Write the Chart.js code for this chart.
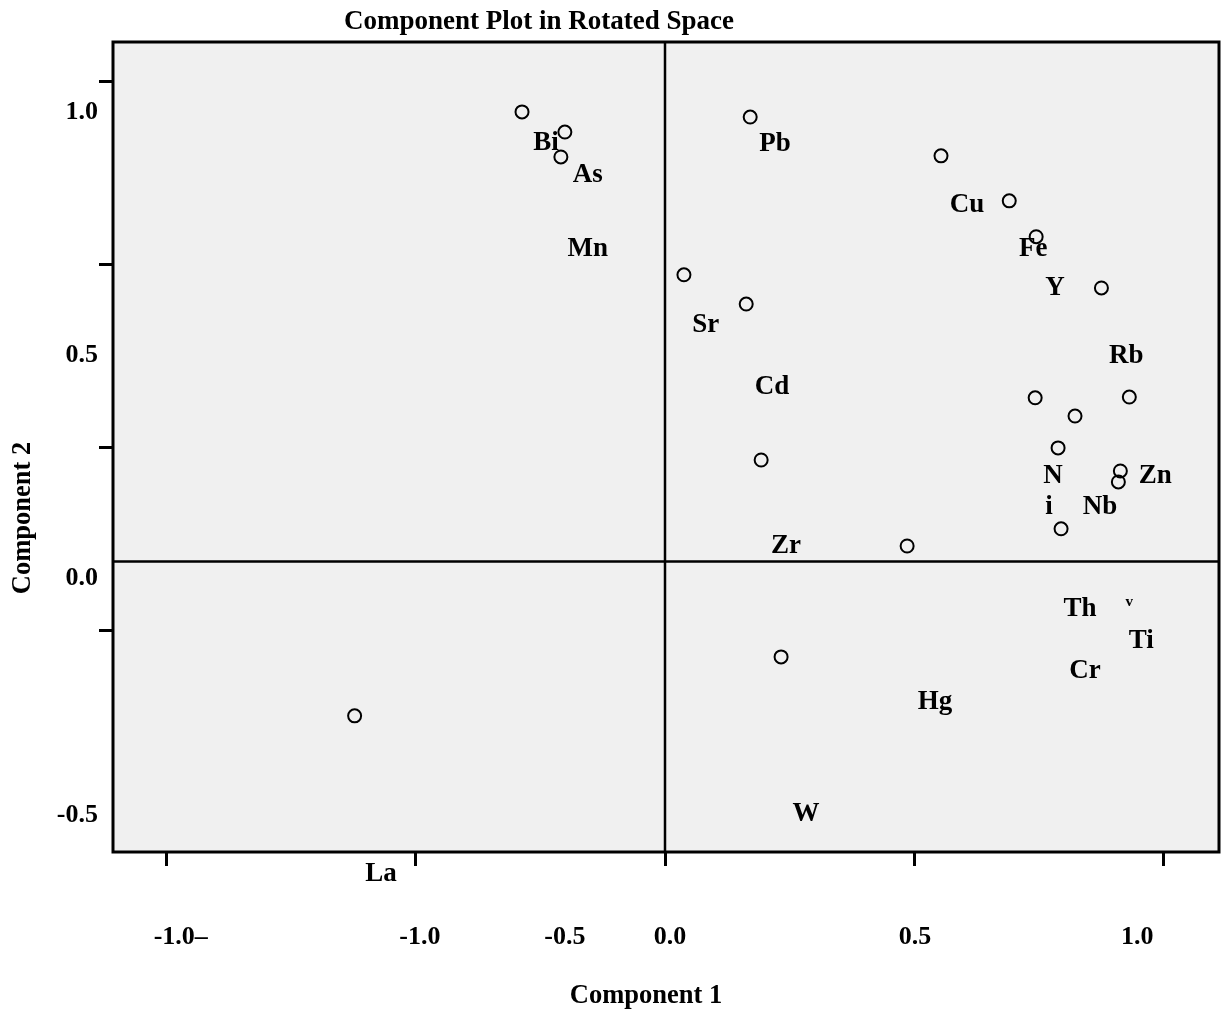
<!DOCTYPE html>
<html>
<head>
<meta charset="utf-8">
<title>Component Plot in Rotated Space</title>
<script src="https://cdn.jsdelivr.net/npm/chart.js@4.4.1/dist/chart.umd.min.js"></script>
<style>
  html, body { margin: 0; padding: 0; background: #fff; }
  canvas { display: block; }
</style>
</head>
<body>
<canvas id="plot" width="1221" height="1013"></canvas>
<script>
// Rotated component loadings (component 1, component 2)
const comp1 = [-0.287, -0.201, -0.209, 0.171, 0.554, 0.691, 0.745, 0.038, 0.163, 0.876, 0.743,
  0.932, 0.823, 0.789, 0.914, 0.910, 0.795, 0.193, 0.486, 0.233, -0.623];
const comp2 = [0.918, 0.863, 0.795, 0.904, 0.798, 0.675, 0.577, 0.473, 0.393, 0.437, 0.137,
  0.139, 0.087, 0.000, -0.063, -0.093, -0.221, -0.033, -0.268, -0.571, -0.732];

// Element labels and where they sit (in axis units)
const elementNames = ["Bi", "As", "Mn", "Pb", "Cu", "Fe", "Y", "Sr", "Rb", "Cd", "N", "i",
  "Zn", "Nb", "Zr", "Th", "v", "Ti", "Cr", "Hg", "W", "La"];
const nameX = [-0.239, -0.155, -0.155, 0.221, 0.606, 0.739, 0.783, 0.082, 0.926, 0.215, 0.779,
  0.771, 0.984, 0.873, 0.243, 0.833, 0.932, 0.956, 0.843, 0.542, 0.283, -0.570];
const nameY = [0.833, 0.746, 0.544, 0.831, 0.664, 0.544, 0.437, 0.336, 0.251, 0.167, -0.077,
  -0.161, -0.077, -0.161, -0.268, -0.440, -0.421, -0.527, -0.609, -0.694, -1.000, -1.164];

// Axis ticks and the printed tick labels
const xTicks = [-1.0, -0.5, 0.0, 0.5, 1.0];
const yTicks = [1.0, 0.5, 0.0, -0.5];
const xTickText = ["-1.0\u2013", "-1.0", "-0.5", "0.0", "0.5", "1.0"];
const xTickAt = [-0.972, -0.492, -0.201, 0.010, 0.502, 0.948];
const yTickText = ["1.0", "0.5", "0.0", "-0.5"];
const yTickAt = [0.918, 0.254, -0.355, -1.003];

// Reference lines
const refX = 0;
const refY = -0.31;

const serif = "'Liberation Serif', 'Times New Roman', serif";

const points = comp1.map((v, i) => ({ x: v, y: comp2[i] }));

// Grey plot box, reference lines, frame and all the printed text
const framePlugin = {
  id: "frame",
  beforeDraw(chart) {
    const { ctx, chartArea: a } = chart;
    ctx.save();
    ctx.fillStyle = "#f0f0f0";
    ctx.fillRect(a.left, a.top, a.right - a.left, a.bottom - a.top);
    ctx.restore();
  },
  beforeDatasetsDraw(chart) {
    const { ctx, chartArea: a, scales: { x, y } } = chart;
    const px = x.getPixelForValue(refX);
    const py = y.getPixelForValue(refY);
    ctx.save();
    ctx.strokeStyle = "#000";
    ctx.lineWidth = 2.5;
    ctx.beginPath();
    ctx.moveTo(px, a.top);
    ctx.lineTo(px, a.bottom);
    ctx.moveTo(a.left, py);
    ctx.lineTo(a.right, py);
    ctx.stroke();
    ctx.restore();
  },
  afterDraw(chart) {
    const { ctx, chartArea: a, scales: { x, y } } = chart;
    ctx.save();
    ctx.strokeStyle = "#000";
    ctx.lineWidth = 3;
    ctx.strokeRect(a.left, a.top, a.right - a.left, a.bottom - a.top);

    ctx.fillStyle = "#000";
    ctx.textAlign = "center";
    ctx.textBaseline = "middle";

    elementNames.forEach((name, i) => {
      ctx.font = (name === "v" ? "bold 15px " : "bold 27px ") + serif;
      ctx.fillText(name, x.getPixelForValue(nameX[i]), y.getPixelForValue(nameY[i]));
    });

    ctx.font = "bold 26px " + serif;
    xTickText.forEach((t, i) => {
      ctx.fillText(t, x.getPixelForValue(xTickAt[i]), a.bottom + 85);
    });
    ctx.textAlign = "right";
    yTickText.forEach((t, i) => {
      ctx.fillText(t, a.left - 15, y.getPixelForValue(yTickAt[i]));
    });

    // titles
    ctx.textAlign = "center";
    ctx.font = "bold 27px " + serif;
    ctx.fillText("Component Plot in Rotated Space", 539, 22);
    ctx.font = "bold 26.5px " + serif;
    ctx.fillText("Component 1", 646, 996);
    ctx.translate(23, 518);
    ctx.rotate(-Math.PI / 2);
    ctx.fillText("Component 2", 0, 0);
    ctx.restore();
  }
};

const axisGrid = {
  drawOnChartArea: false,
  drawTicks: true,
  tickLength: 14,
  tickWidth: 3,
  tickColor: "#000"
};

new Chart(document.getElementById("plot"), {
  type: "scatter",
  data: {
    datasets: [{
      data: points,
      pointStyle: "circle",
      pointRadius: 6.5,
      pointBorderWidth: 2,
      pointBorderColor: "#000",
      pointBackgroundColor: "rgba(0,0,0,0)"
    }]
  },
  options: {
    responsive: false,
    animation: false,
    layout: { autoPadding: false, padding: { left: 99, top: 42, right: 2, bottom: 147 } },
    plugins: { legend: { display: false }, tooltip: { enabled: false } },
    scales: {
      x: {
        type: "linear",
        position: "bottom",
        min: -1.108,
        max: 1.112,
        grid: axisGrid,
        border: { display: false },
        ticks: { display: false },
        afterBuildTicks: (s) => { s.ticks = xTicks.map(v => ({ value: v })); }
      },
      y: {
        type: "linear",
        position: "left",
        min: -1.104,
        max: 1.109,
        grid: axisGrid,
        border: { display: false },
        ticks: { display: false },
        afterBuildTicks: (s) => { s.ticks = yTicks.map(v => ({ value: v })); }
      }
    }
  },
  plugins: [framePlugin]
});
</script>
</body>
</html>
